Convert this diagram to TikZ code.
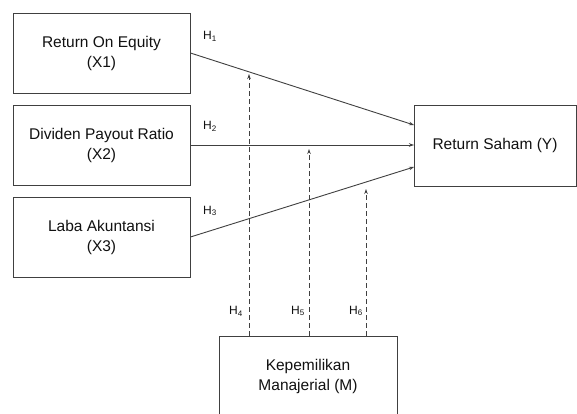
\documentclass[tikz,border=0pt]{standalone}
\usepackage{fontspec}
\setmainfont{Liberation Sans}
\usetikzlibrary{arrows.meta}
\definecolor{linec}{HTML}{404040}
\definecolor{textc}{HTML}{111111}
\tikzset{
  varbox/.style={draw=linec, line width=0.9pt, minimum width=177pt, minimum height=80pt, inner sep=0pt, align=center, text=textc, font=\fontsize{15.5}{20}\selectfont},
  hlabel/.style={text=textc, inner sep=0pt, font=\fontsize{12}{14}\selectfont},
  solidarrow/.style={draw=linec, line width=0.9pt, -{Stealth[length=5pt,width=3.5pt]}},
  dasharrow/.style={draw=linec, line width=0.9pt, dash pattern=on 5pt off 3pt, -{Stealth[length=5pt,width=3.5pt]}}
}
\begin{document}
\begin{tikzpicture}[x=1pt,y=-1pt]
\clip (0,0) rectangle (577,414);
\fill[white] (0,0) rectangle (577,414);
\node[varbox] (X1) at (101.5,53) {Return On Equity\\(X1)};
\node[varbox] (X2) at (101.5,145) {Dividen Payout Ratio\\(X2)};
\node[varbox] (X3) at (101.5,237) {Laba Akuntansi\\(X3)};
\node[varbox, minimum width=162pt, minimum height=81pt] (Y) at (495,145.5) {Return Saham (Y)};
\node[varbox, minimum width=178pt] (M) at (308,376) {Kepemilikan\\Manajerial (M)};
\coordinate (e1) at (414,125);
\coordinate (e2) at (414,145);
\coordinate (e3) at (414,167);
\draw[solidarrow] (X1.east) -- (e1);
\draw[solidarrow] (X2.east) -- (e2);
\draw[solidarrow] (X3.east) -- (e3);
\coordinate (t4) at (249,74);
\coordinate (t5) at (309,149);
\coordinate (t6) at (366,189);
\draw[dasharrow] (M.north -| t4) -- (t4);
\draw[dasharrow] (M.north -| t5) -- (t5);
\draw[dasharrow] (M.north -| t6) -- (t6);
\node[hlabel] (h1) at (210,36) {H\textsubscript{1}};
\node[hlabel] (h2) at (210,126) {H\textsubscript{2}};
\node[hlabel] (h3) at (210,211) {H\textsubscript{3}};
\node[hlabel] (h4) at (236,311) {H\textsubscript{4}};
\node[hlabel] (h5) at (298,311) {H\textsubscript{5}};
\node[hlabel] (h6) at (356,311) {H\textsubscript{6}};
\end{tikzpicture}
\end{document}
